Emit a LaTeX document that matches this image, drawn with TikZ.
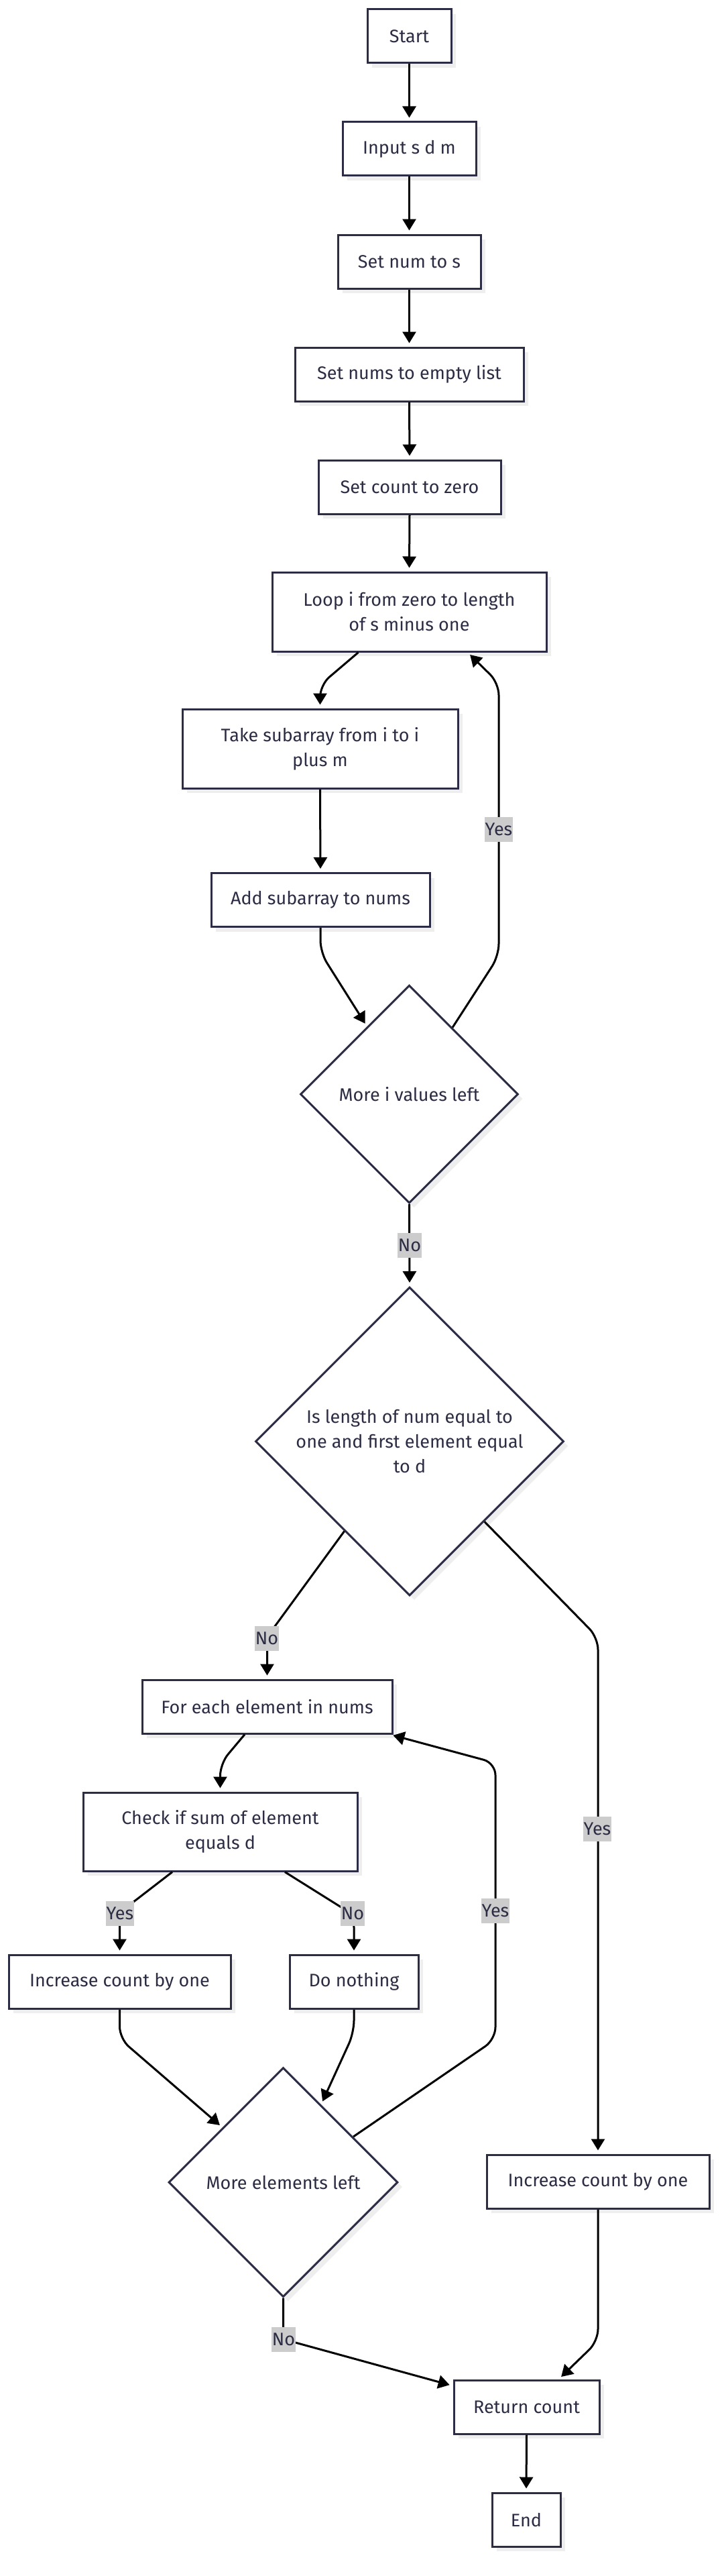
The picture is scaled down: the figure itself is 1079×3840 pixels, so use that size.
\documentclass[tikz,border=0pt]{standalone}
\usepackage{fontspec}
\setmainfont{Fira Sans}
\usetikzlibrary{shapes.geometric,arrows.meta,shadows,calc}
\definecolor{ink}{RGB}{44,44,68}
\definecolor{shd}{RGB}{238,238,238}
\definecolor{lbl}{RGB}{204,204,204}
\newcommand\fsz{\fontsize{27}{37}\selectfont}
\begin{document}
\begin{tikzpicture}[x=1pt,y=-1pt,
  box/.style={draw=ink, line width=3pt, fill=white, text=ink, rectangle, inner sep=0pt,
    minimum height=80pt, align=center, font=\fsz,
    drop shadow={shadow xshift=7pt, shadow yshift=-7pt, fill=shd, opacity=1}},
  dec/.style={draw=ink, line width=3pt, fill=white, text=ink, diamond, aspect=1, inner sep=0pt,
    align=center, font=\fsz,
    drop shadow={shadow xshift=7pt, shadow yshift=-7pt, fill=shd, opacity=1}},
  arr/.style={draw=black, line width=3pt, -{Triangle[length=17pt,width=20pt]},
    rounded corners=18pt, shorten >=5pt},
  lab/.style={fill=lbl, text=ink, font=\fsz, inner xsep=1pt, inner ysep=0pt, minimum height=37pt},
]
\useasboundingbox[fill=white] (0,0) rectangle (1079,3840);

% nodes
\node[box, minimum width=125pt] (start) at (610.5,54) {Start};
\node[box, minimum width=199pt] (input) at (610.5,222) {Input s d m};
\node[box, minimum width=213pt] (setnum) at (610.5,390) {Set num to s};
\node[box, minimum width=341pt] (setnums) at (610.5,558) {Set nums to empty list};
\node[box, minimum width=272pt] (setcount) at (611,726) {Set count to zero};
\node[box, minimum width=409pt, minimum height=118pt] (loop) at (610.5,912) {Loop i from zero to length\\of s minus one};
\node[box, minimum width=411pt, minimum height=118pt] (take) at (477.5,1116) {Take subarray from i to i\\plus m};
\node[box, minimum width=326pt] (add) at (478,1341.5) {Add subarray to nums};
\node[dec, minimum width=325pt, minimum height=325pt] (d1) at (610.5,1631) {More i values left};
\node[dec, minimum width=460pt, minimum height=460pt] (d2) at (611,2148.5) {Is length of num equal to\\one and first element equal\\to d};
\node[box, minimum width=373pt] (foreach) at (398.5,2544) {For each element in nums};
\node[box, minimum width=409pt, minimum height=117pt] (check) at (328.5,2730.5) {Check if sum of element\\equals d};
\node[box, minimum width=331pt] (inc1) at (178.5,2954) {Increase count by one};
\node[box, minimum width=192pt] (nothing) at (528,2954) {Do nothing};
\node[dec, minimum width=342pt, minimum height=342pt] (d3) at (422.5,3253) {More elements left};
\node[box, minimum width=332pt] (inc2) at (892,3252) {Increase count by one};
\node[box, minimum width=217pt] (ret) at (785.5,3588) {Return count};
\node[box, minimum width=102pt] (endn) at (785,3756) {End};

% waypoints
\coordinate (w1) at (477.5,1021);
\coordinate (w2) at (478,1420);
\coordinate (w3) at (744,1425);
\coordinate (w4) at (744,1018);
\coordinate (w5) at (398.5,2440);
\coordinate (w6) at (892,2441);
\coordinate (w7) at (328.5,2629);
\coordinate (w8) at (178.5,2851);
\coordinate (w9) at (528,2855);
\coordinate (w10) at (739,3040);
\coordinate (w11) at (739,2628);
\coordinate (w12) at (178.5,3039);
\coordinate (w13) at (528,3030);
\coordinate (w14) at (422.5,3487);
\coordinate (w15) at (892,3490);

% edges
\draw[arr] (start.south) -- (input.north);
\draw[arr] (input.south) -- (setnum.north);
\draw[arr] (setnum.south) -- (setnums.north);
\draw[arr] (setnums.south) -- (setcount.north);
\draw[arr] (setcount.south) -- (loop.north);
\draw[arr] ([xshift=-76pt]loop.south) -- (w1) -- (take.north);
\draw[arr] (take.south) -- (add.north);
\draw[arr] (add.south) -- (w2) -- (d1.122);
\draw[arr] (d1.57) -- (w3) -- (w4) -- ([xshift=87pt]loop.south);
\draw[arr] (d1.south) -- (d2.north);
\draw[arr] (d2.234) -- (w5) -- (foreach.north);
\draw[arr] (d2.313) -- (w6) -- (inc2.north);
\draw[arr] ([xshift=-33.5pt]foreach.south) -- (w7) -- (check.north);
\draw[arr] ([xshift=-71.5pt]check.south) -- (w8) -- (inc1.north);
\draw[arr] ([xshift=96.5pt]check.south) -- (w9) -- (nothing.north);
\draw[arr] (d3.33) -- (w10) -- (w11) -- ([xshift=-5pt]foreach.south east);
\draw[arr] (inc1.south) -- (w12) -- (d3.138);
\draw[arr] (nothing.south) -- (w13) -- (d3.64);
\draw[arr] (d3.south) -- (w14) -- (ret.164);
\draw[arr] (inc2.south) -- (w15) -- ([xshift=48pt]ret.north);
\draw[arr] (ret.south) -- (endn.north);

% edge labels
\node[lab] (l1) at (744,1236) {Yes};
\node[lab] (l2) at (611,1856) {No};
\node[lab] (l3) at (398,2442) {No};
\node[lab] (l4) at (891,2726) {Yes};
\node[lab] (l5) at (179,2852) {Yes};
\node[lab] (l6) at (526,2852) {No};
\node[lab] (l7) at (739,2848) {Yes};
\node[lab] (l8) at (423,3487) {No};
\end{tikzpicture}
\end{document}
